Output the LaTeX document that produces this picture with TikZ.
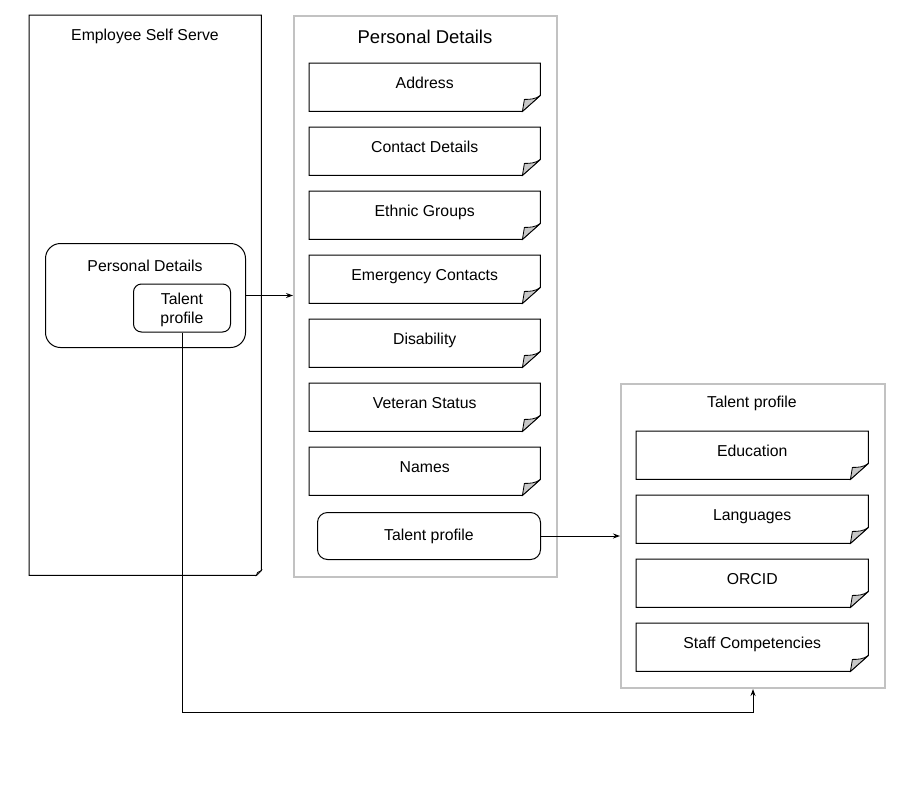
\documentclass[tikz,border=0pt]{standalone}
\usepackage{fontspec}
\setmainfont{Liberation Sans}
\usetikzlibrary{arrows.meta}
\definecolor{cgray}{RGB}{194,194,194}
\definecolor{foldgray}{RGB}{200,200,200}
\tikzset{
  txt/.style={font=\fontsize{15.8}{19}\selectfont, inner sep=0pt},
  bigtxt/.style={font=\fontsize{18.5}{22}\selectfont, inner sep=0pt},
  container/.style={draw=cgray, line width=2pt, anchor=north west, inner sep=0pt},
  notebox/.style={txt, anchor=north west, minimum height=48pt, text height=11pt, text depth=8.5pt},
  rbox/.style={draw, line width=1pt, anchor=north west, txt},
  outline/.style={line width=1pt, line join=miter},
  conn/.style={line width=1pt, -{Stealth[length=7pt,width=5pt]}},
}
\newcommand\mknote[5]{%
  \node[notebox, minimum width=#4pt] (#1) at (#2,#3) {#5};
  \draw[outline] (#1.north west) -- (#1.north east) -- ([yshift=16pt]#1.south east)
     -- ([xshift=-18pt]#1.south east) -- (#1.south west) -- cycle;
  \draw[fill=foldgray, line width=0.8pt] ([yshift=16pt]#1.south east)
     .. controls +(-5pt,-4pt) and +(5pt,0pt) .. ([xshift=-16pt,yshift=12pt]#1.south east)
     -- ([xshift=-18pt]#1.south east) -- cycle;
}
\begin{document}
\begin{tikzpicture}[x=1pt,y=-1pt]
\useasboundingbox[fill=white] (0,0) rectangle (909,790);

% Employee Self Serve
\node[anchor=north west, minimum width=232pt, minimum height=560pt, inner sep=0pt] (ess) at (29,15) {};
\draw[outline] (ess.north west) -- (ess.north east) -- ([yshift=5pt]ess.south east)
   -- ([xshift=-5pt]ess.south east) -- (ess.south west) -- cycle;
\draw[fill=foldgray, line width=0.6pt] ([yshift=5pt]ess.south east) -- ([xshift=-4pt,yshift=3pt]ess.south east) -- ([xshift=-5pt]ess.south east) -- cycle;
\node[txt, anchor=base] (esst) at (145,40.5) {Employee Self Serve};

\node[rbox, rounded corners=15pt, minimum width=200pt, minimum height=104pt] (pdr) at (45,243) {};
\node[txt, anchor=base] (pdrt) at (145,271) {Personal Details};
\node[rbox, rounded corners=8pt, minimum width=97pt, minimum height=48pt, align=center, text depth=0pt] (tpi) at (133,283.5) {Talent\\profile};

% Personal Details container
\node[container, minimum width=263pt, minimum height=561pt] (pd) at (293,15) {};
\node[bigtxt, anchor=base] (pdt) at (425,43.5) {Personal Details};
\mknote{n1}{309}{63}{231}{Address}
\mknote{n2}{309}{127}{231}{Contact Details}
\mknote{n3}{309}{191}{231}{Ethnic Groups}
\mknote{n4}{309}{255}{231}{Emergency Contacts}
\mknote{n5}{309}{319}{231}{Disability}
\mknote{n6}{309}{383}{231}{Veteran Status}
\mknote{n7}{309}{447}{231}{Names}
\node[rbox, rounded corners=10pt, minimum width=223pt, minimum height=47pt, text depth=3pt] (tpr) at (317,512) {Talent profile};

% Talent profile container
\node[container, minimum width=264pt, minimum height=304pt] (tp) at (620,383) {};
\node[txt, anchor=base] (tpt) at (752,407.5) {Talent profile};
\mknote{m1}{636}{431}{232}{Education}
\mknote{m2}{636}{495}{232}{Languages}
\mknote{m3}{636}{559}{232}{ORCID}
\mknote{m4}{636}{623}{232}{Staff Competencies}

% connectors
\draw[conn] (pdr.east) -- (pdr.east -| pd.west);
\draw[conn] (tpr.east) -- (tpr.east -| tp.west);
\coordinate (bend) at (181,712);
\draw[conn] (tpi.south) -- (tpi.south |- bend) -- (tp.south |- bend) -- (tp.south);
\end{tikzpicture}
\end{document}
